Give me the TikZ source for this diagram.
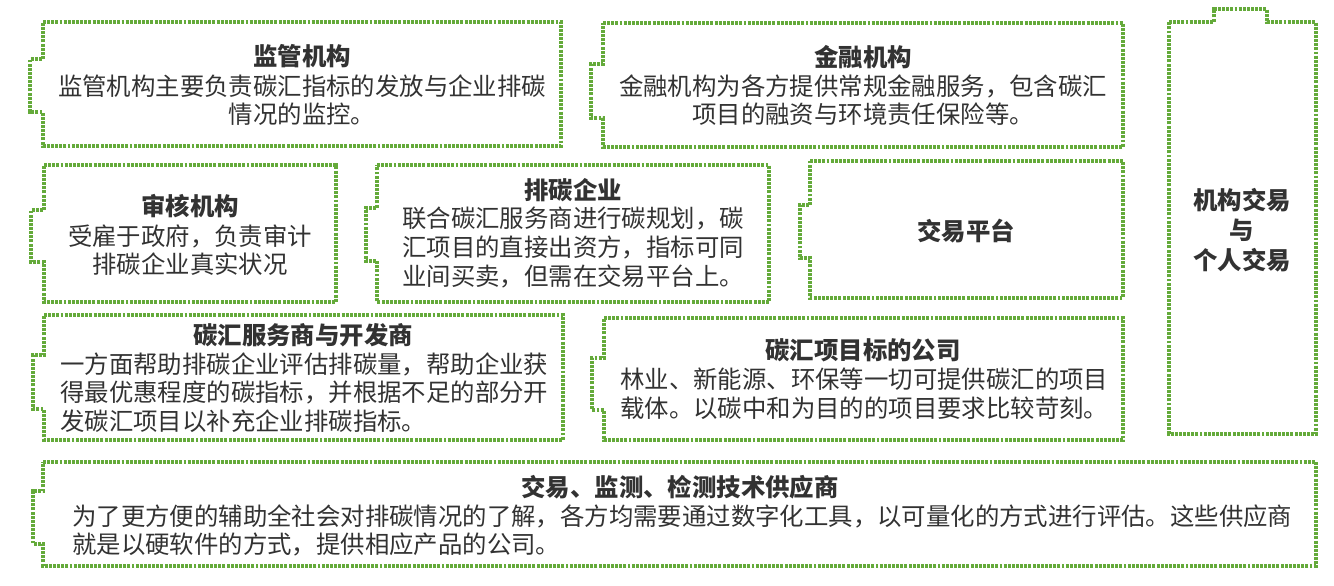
\documentclass[tikz,border=0pt]{standalone}
\usepackage{fontspec}
\setmainfont{Noto Sans CJK SC}
\definecolor{boxgreen}{RGB}{100,170,58}
\definecolor{txt}{RGB}{50,50,50}
\newcommand{\tabbox}[7]{%
  \draw[tabline] (#1,#2) -- (#3,#2) -- (#3,#4) -- (#1,#4) -- (#1,#7) -- (#5,#7) -- (#5,#6) -- (#1,#6) -- cycle;}
\begin{document}
\begin{tikzpicture}[x=0.75pt,y=-0.75pt,
  tabline/.style={draw=boxgreen, line width=2.4pt, dash pattern=on 2.2pt off 0.9pt},
  ttl/.style={font=\fontsize{18.3}{21.4}\selectfont\bfseries, text=txt, inner sep=0pt, align=center},
  body/.style={font=\fontsize{18.3}{21.4}\selectfont, text=txt, inner sep=0pt, align=center},
  bodyl/.style={body, align=left, anchor=west}]
\useasboundingbox (0,0) rectangle (1334,585);
% outlines
\tabbox{43}{22}{561}{146}{30}{59}{112}
\tabbox{603}{23}{1123}{147}{591}{64}{118}
\tabbox{44}{165}{336}{302}{31}{210}{262}
\tabbox{377}{165}{769}{302}{366}{208}{261}
\tabbox{810}{161}{1123}{298}{800}{205}{258}
\tabbox{44}{315}{563}{440}{33}{355}{409}
\tabbox{604}{318}{1123}{440}{592}{358}{410}
\tabbox{43}{462}{1316}{566}{33}{491}{544}
\draw[tabline] (1169,22) -- (1214,22) -- (1214,9) -- (1267,9) -- (1267,22) -- (1316,22) -- (1316,434) -- (1169,434) -- cycle;
% texts
\node[ttl] (t1) at (302,56) {监管机构};
\node[body] (b1) at (302,100) {监管机构主要负责碳汇指标的发放与企业排碳\\情况的监控。};
\node[ttl] (t2) at (863,57) {金融机构};
\node[body] (b2) at (863,100) {金融机构为各方提供常规金融服务，包含碳汇\\项目的融资与环境责任保险等。};
\node[ttl] (t3) at (190,206) {审核机构};
\node[body] (b3) at (190,250) {受雇于政府，负责审计\\排碳企业真实状况};
\node[ttl] (t4) at (573,190) {排碳企业};
\node[body] (b4) at (573,247.5) {联合碳汇服务商进行碳规划，碳\\汇项目的直接出资方，指标可同\\业间买卖，但需在交易平台上。};
\node[ttl] (t5) at (966,231) {交易平台};
\node[ttl, font=\fontsize{18.3}{22.5}\selectfont\bfseries] (t6) at (1242,230) {机构交易\\与\\个人交易};
\node[ttl] (t7) at (303,335) {碳汇服务商与开发商};
\node[bodyl] (b7) at (60,392.5) {一方面帮助排碳企业评估排碳量，帮助企业获\\得最优惠程度的碳指标，并根据不足的部分开\\发碳汇项目以补充企业排碳指标。};
\node[ttl] (t8) at (863,350) {碳汇项目标的公司};
\node[bodyl] (b8) at (620,394) {林业、新能源、环保等一切可提供碳汇的项目\\载体。以碳中和为目的的项目要求比较苛刻。};
\node[ttl] (t9) at (680,487) {交易、监测、检测技术供应商};
\node[bodyl] (b9) at (72,530.5) {为了更方便的辅助全社会对排碳情况的了解，各方均需要通过数字化工具，以可量化的方式进行评估。这些供应商\\就是以硬软件的方式，提供相应产品的公司。};
\end{tikzpicture}
\end{document}
